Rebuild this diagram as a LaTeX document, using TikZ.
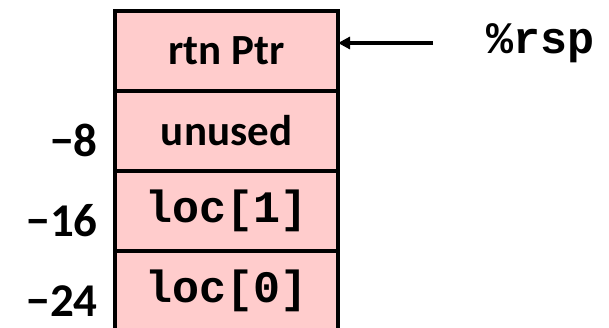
\documentclass[tikz,border=0pt]{standalone}
\usepackage{fontspec}
\setmainfont{Carlito}
\newfontfamily\codefont{Liberation Mono}
\usepackage{tikz}
\usetikzlibrary{arrows.meta,positioning}
\definecolor{cellpink}{RGB}{255,204,204}

\tikzset{
  cell/.style={draw=black,line width=4pt,fill=cellpink,rectangle,
    minimum width=223pt,minimum height=80pt,outer sep=0pt,inner sep=0pt,
    font=\fontsize{43}{46}\selectfont\bfseries},
  code/.style={font=\fontsize{45}{48}\selectfont\codefont\bfseries},
  offset/.style={inner sep=0pt,font=\fontsize{47}{50}\selectfont\bfseries},
  ptr/.style={line width=3.5pt,-{Triangle[length=12pt,width=12pt]}}
}

\begin{document}
\begin{tikzpicture}[x=1pt,y=1pt]
  \path[use as bounding box,clip] (0,0) rectangle (609,327);

  % stack frame
  \node[cell] (rtn) at (226.5,276) {rtn Ptr};
  \node[cell,below=0pt of rtn] (unused) {unused};
  \node[cell,below=0pt of unused,code] (loc1) {loc[1]};
  \node[cell,below=0pt of loc1,code] (loc0) {loc[0]};

  % offsets
  \node[offset,left=17pt of unused.west,yshift=-9pt] (off8) {−8};
  \node[offset,left=17pt of loc1.west,yshift=-10pt] (off16) {−16};
  \node[offset,left=17pt of loc0.west,yshift=-10pt] (off24) {−24};

  % stack pointer
  \node[code,anchor=west,inner sep=0pt] (rsp) at (486,284) {\%rsp};
  \draw[ptr,shorten <=53pt] (rsp.west) -- (rsp.west -| rtn.east);
\end{tikzpicture}
\end{document}
